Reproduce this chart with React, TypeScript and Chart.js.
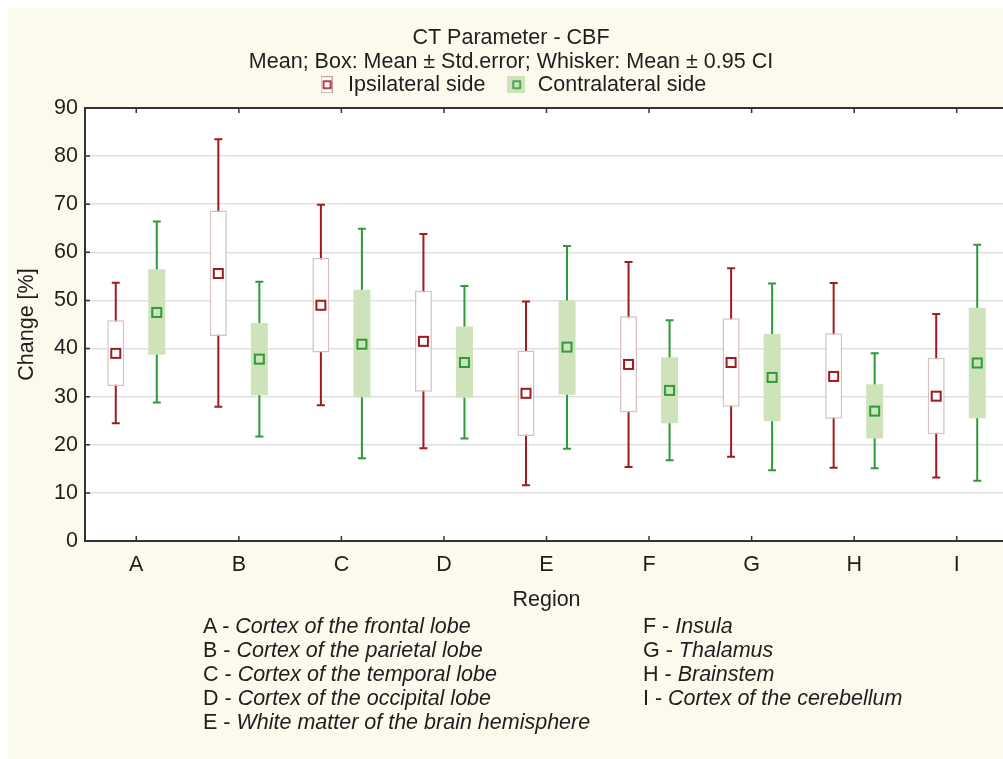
import React, { useEffect, useRef } from "react";
import { Chart, registerables } from "chart.js";

Chart.register(...registerables);

const categories = ["A", "B", "C", "D", "E", "F", "G", "H", "I"];

const ipsiMean = [39.0, 55.6, 49.0, 41.5, 30.7, 36.7, 37.1, 34.2, 30.1];
const ipsiSeLow = [32.2, 42.6, 39.2, 31.0, 21.8, 26.7, 27.9, 25.4, 22.2];
const ipsiSeHigh = [45.9, 68.7, 58.8, 52.0, 39.6, 46.7, 46.3, 43.2, 38.1];
const ipsiCiLow = [24.5, 27.9, 28.2, 19.3, 11.6, 15.4, 17.5, 15.2, 13.2];
const ipsiCiHigh = [53.7, 83.5, 69.9, 63.8, 49.8, 58.0, 56.7, 53.6, 47.2];

const contraMean = [47.5, 37.8, 40.9, 37.1, 40.3, 31.3, 34.0, 27.0, 37.0];
const contraSeLow = [38.7, 30.3, 29.9, 29.8, 30.4, 24.5, 24.9, 21.3, 25.5];
const contraSeHigh = [56.5, 45.3, 52.2, 44.6, 50.0, 38.2, 43.0, 32.6, 48.5];
const contraCiLow = [28.8, 21.7, 17.2, 21.3, 19.2, 16.8, 14.7, 15.1, 12.5];
const contraCiHigh = [66.4, 53.9, 64.9, 53.0, 61.3, 45.9, 53.5, 39.0, 61.6];

const glossaryLeft = [
  ["A", "Cortex of the frontal lobe"],
  ["B", "Cortex of the parietal lobe"],
  ["C", "Cortex of the temporal lobe"],
  ["D", "Cortex of the occipital lobe"],
  ["E", "White matter of the brain hemisphere"],
];
const glossaryRight = [
  ["F", "Insula"],
  ["G", "Thalamus"],
  ["H", "Brainstem"],
  ["I", "Cortex of the cerebellum"],
];

const FONT = "'Liberation Sans', Arial, Helvetica, sans-serif";
const TEXT = "#1e1e1e";
const RED = "#9e1c1c";
const GREEN = "#2e9a3b";
const GREEN_FILL = "#cee3ba";

function makeIcon(kind: "ipsi" | "contra") {
  const c = document.createElement("canvas");
  const w = kind === "ipsi" ? 12 : 18;
  const h = 17;
  c.width = w;
  c.height = h;
  const g = c.getContext("2d")!;
  if (kind === "ipsi") {
    g.fillStyle = "#ffffff";
    g.fillRect(0, 0, w, h);
    g.strokeStyle = "#c9a3a3";
    g.lineWidth = 1;
    g.strokeRect(0.5, 0.5, w - 1, h - 1);
    g.strokeStyle = RED;
  } else {
    g.fillStyle = GREEN_FILL;
    g.fillRect(0, 0, w, h);
    g.strokeStyle = GREEN;
  }
  g.lineWidth = 1.6;
  const s = 7;
  g.strokeRect(Math.round(w / 2 - s / 2), Math.round(h / 2 - s / 2), s, s);
  return c;
}

const boxPlugin = {
  id: "boxWhiskers",
  beforeDraw(chart: any) {
    const { ctx, chartArea } = chart;
    ctx.save();
    ctx.fillStyle = "#ffffff";
    ctx.fillRect(chartArea.left, chartArea.top, chartArea.right - chartArea.left, chartArea.bottom - chartArea.top);
    ctx.restore();
  },
  beforeDatasetsDraw(chart: any) {
    const { ctx } = chart;
    const y = chart.scales.y;
    chart.data.datasets.forEach((ds: any, d: number) => {
      const meta = chart.getDatasetMeta(d);
      ctx.save();
      ctx.strokeStyle = ds.whiskerColor;
      ctx.lineWidth = 2;
      meta.data.forEach((el: any, i: number) => {
        const x = el.x;
        const yl = y.getPixelForValue(ds.ciLow[i]);
        const yh = y.getPixelForValue(ds.ciHigh[i]);
        ctx.beginPath();
        ctx.moveTo(x, yl);
        ctx.lineTo(x, yh);
        ctx.moveTo(x - 4, yl);
        ctx.lineTo(x + 4, yl);
        ctx.moveTo(x - 4, yh);
        ctx.lineTo(x + 4, yh);
        ctx.stroke();
      });
      ctx.restore();
    });
  },
  afterDatasetsDraw(chart: any) {
    const { ctx } = chart;
    const y = chart.scales.y;
    chart.data.datasets.forEach((ds: any, d: number) => {
      const meta = chart.getDatasetMeta(d);
      ctx.save();
      meta.data.forEach((el: any, i: number) => {
        const x = el.x;
        const ym = y.getPixelForValue(ds.means[i]);
        ctx.fillStyle = ds.markerFill;
        ctx.strokeStyle = ds.whiskerColor;
        ctx.lineWidth = 2;
        ctx.fillRect(x - 4.5, ym - 4.5, 9, 9);
        ctx.strokeRect(x - 4.5, ym - 4.5, 9, 9);
      });
      ctx.restore();
    });
  },
  afterDraw(chart: any) {
    const { ctx, chartArea } = chart;
    const x = chart.scales.x;
    const y = chart.scales.y;
    ctx.save();
    ctx.strokeStyle = "#333333";
    ctx.lineWidth = 2;
    ctx.beginPath();
    ctx.moveTo(chartArea.left - 1, chartArea.top);
    ctx.lineTo(chartArea.right, chartArea.top);
    ctx.stroke();
    ctx.lineWidth = 1.5;
    ctx.beginPath();
    x.ticks.forEach((_: any, i: number) => {
      const px = x.getPixelForTick(i);
      ctx.moveTo(px, chartArea.bottom);
      ctx.lineTo(px, chartArea.bottom - 5);
      ctx.moveTo(px, chartArea.top);
      ctx.lineTo(px, chartArea.top + 5);
    });
    y.ticks.forEach((_: any, i: number) => {
      const py = y.getPixelForTick(i);
      ctx.moveTo(chartArea.left, py);
      ctx.lineTo(chartArea.left + 5, py);
    });
    ctx.stroke();
    ctx.restore();
  },
};

export default function App() {
  const ref = useRef<HTMLCanvasElement | null>(null);

  useEffect(() => {
    if (!ref.current) return;
    const iconIpsi = makeIcon("ipsi");
    const iconContra = makeIcon("contra");
    const font = { family: FONT, size: 21.5, weight: "normal" as const, lineHeight: "24px" };

    const chart = new Chart(ref.current, {
      type: "bar",
      data: {
        labels: categories,
        datasets: [
          {
            label: "Ipsilateral side",
            data: categories.map((_, i) => [ipsiSeLow[i], ipsiSeHigh[i]]),
            backgroundColor: "#ffffff",
            borderColor: "#d6c0c0",
            borderWidth: 1.5,
            borderSkipped: false,
            barPercentage: 0.414,
            categoryPercentage: 0.8,
            means: ipsiMean,
            ciLow: ipsiCiLow,
            ciHigh: ipsiCiHigh,
            whiskerColor: RED,
            markerFill: "#ffffff",
          } as any,
          {
            label: "Contralateral side",
            data: categories.map((_, i) => [contraSeLow[i], contraSeHigh[i]]),
            backgroundColor: GREEN_FILL,
            borderWidth: 0,
            barPercentage: 0.414,
            categoryPercentage: 0.8,
            means: contraMean,
            ciLow: contraCiLow,
            ciHigh: contraCiHigh,
            whiskerColor: GREEN,
            markerFill: GREEN_FILL,
          } as any,
        ],
      },
      options: {
        animation: false,
        responsive: false,
        events: [],
        layout: { padding: { left: 6, right: 0, top: 0, bottom: 0 } },
        plugins: {
          title: {
            display: true,
            text: "CT Parameter - CBF",
            color: TEXT,
            font,
            padding: { top: 18, bottom: 0 },
          },
          subtitle: {
            display: true,
            text: "Mean; Box: Mean \u00b1 Std.error; Whisker: Mean \u00b1 0.95 CI",
            color: TEXT,
            font,
            padding: { top: 0, bottom: -20 },
          },
          legend: {
            display: true,
            position: "top",
            labels: {
              usePointStyle: true,
              padding: 20,
              color: TEXT,
              font,
              generateLabels: () => [
                {
                  text: "Ipsilateral side",
                  pointStyle: iconIpsi as any,
                  fillStyle: "transparent",
                  strokeStyle: "transparent",
                  lineWidth: 0,
                  hidden: false,
                  datasetIndex: 0,
                  fontColor: TEXT,
                },
                {
                  text: "Contralateral side",
                  pointStyle: iconContra as any,
                  fillStyle: "transparent",
                  strokeStyle: "transparent",
                  lineWidth: 0,
                  hidden: false,
                  datasetIndex: 1,
                  fontColor: TEXT,
                },
              ],
            },
          },
          tooltip: { enabled: false },
        },
        scales: {
          x: {
            grid: { display: false, drawTicks: false },
            border: { display: true, color: "#333333", width: 2 },
            ticks: { padding: 12, color: TEXT, font },
            title: { display: true, text: "Region", color: TEXT, font, padding: { top: 0, bottom: 6 } },
            afterFit: (s: any) => {
              s.height = 77;
            },
          },
          x2: {
            type: "category",
            position: "top",
            display: true,
            grid: { display: false, drawTicks: false },
            border: { display: false },
            ticks: { display: false },
            afterFit: (s: any) => {
              s.height = 2.5;
            },
          },
          y: {
            min: 0,
            max: 90,
            ticks: { stepSize: 10, padding: 7, color: TEXT, font },
            grid: { color: "#e0e0e0", lineWidth: 1.5, drawTicks: false },
            border: { display: true, color: "#333333", width: 2 },
            title: { display: true, text: "Change [%]", color: TEXT, font, padding: { top: 1, bottom: 0 } },
            afterFit: (s: any) => {
              s.width = 71;
            },
          },
        },
      },
      plugins: [boxPlugin],
    });
    return () => chart.destroy();
  }, []);

  const lineStyle: React.CSSProperties = { height: 24, lineHeight: "24px", whiteSpace: "nowrap" };

  return (
    <div
      style={{
        position: "fixed",
        left: 8,
        top: 8,
        width: 995,
        height: 751,
        overflow: "hidden",
        background: "#fcf9ed",
        fontFamily: FONT,
        color: TEXT,
      }}
    >
      <canvas ref={ref} width={1000} height={610} style={{ position: "absolute", left: 0, top: 0, width: 1000, height: 610 }} />
      <div style={{ position: "absolute", left: 195, top: 606, fontSize: 21.5 }}>
        {glossaryLeft.map(([k, v]) => (
          <div key={k} style={lineStyle}>
            {k} - <i>{v}</i>
          </div>
        ))}
      </div>
      <div style={{ position: "absolute", left: 635, top: 606, fontSize: 21.5 }}>
        {glossaryRight.map(([k, v]) => (
          <div key={k} style={lineStyle}>
            {k} - <i>{v}</i>
          </div>
        ))}
      </div>
    </div>
  );
}
